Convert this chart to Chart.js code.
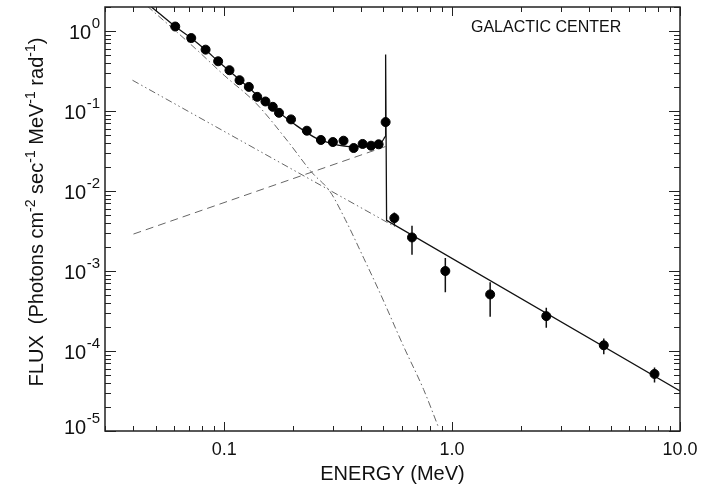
<!DOCTYPE html>
<html>
<head>
<meta charset="utf-8">
<script src="https://cdn.jsdelivr.net/npm/chart.js@4/dist/chart.umd.min.js"></script>
<style>
  body { margin: 0; background: #fff; }
  canvas { display: block; }
</style>
</head>
<body>
<canvas id="chart" width="718" height="486"></canvas>
<script>
'use strict';

// measured points (MeV, flux)
let pointE = [0.061, 0.0717, 0.0829, 0.0941, 0.1055, 0.1168, 0.1283, 0.1396, 0.1517, 0.1634, 0.174, 0.1965, 0.2306, 0.2657, 0.2999, 0.334, 0.370, 0.405, 0.441, 0.476, 0.511, 0.558, 0.667, 0.934, 1.469, 2.59, 4.63, 7.73];
let pointF = [1.14, 0.818, 0.586, 0.419, 0.324, 0.243, 0.2005, 0.1506, 0.1318, 0.113, 0.0951, 0.0787, 0.0568, 0.0435, 0.041, 0.0426, 0.0345, 0.0388, 0.0369, 0.0384, 0.0728, 0.00459, 0.00263, 0.00100, 0.00051, 0.000273, 0.000118, 0.0000517];

// error bars
let errE = [0.558, 0.667, 0.934, 1.469, 2.59, 4.63, 7.73];
let errLo = [0.0037, 0.0016, 0.000543, 0.000268, 0.000196, 0.000091, 0.0000404];
let errHi = [0.0054, 0.00368, 0.00146, 0.000724, 0.000347, 0.000143, 0.000062];

// total model, continuum part
let totalE = [0.048, 0.061, 0.072, 0.083, 0.094, 0.105, 0.117, 0.128, 0.14, 0.152, 0.163, 0.174, 0.20, 0.254, 0.30, 0.356, 0.436, 0.492, 0.508];
let totalF = [2.0, 1.14, 0.81, 0.58, 0.42, 0.32, 0.245, 0.198, 0.155, 0.128, 0.11, 0.096, 0.071, 0.0456, 0.039, 0.036, 0.0359, 0.0414, 0.0478];
// total model, 511 keV line and power law
let lineE = [0.508, 0.511, 0.516, 10];
let lineF = [0.0478, 0.51, 0.0043, 0.0000317];

// positronium continuum (dashed)
let posE = [0.04, 0.51];
let posF = [0.0029, 0.036];
// power law (dash dot dot)
let plE = [0.0396, 0.56];
let plF = [0.243, 0.0036];
// steep component (dash dot)
let steepE = [0.046, 0.075, 0.10, 0.138, 0.19, 0.242, 0.291, 0.340, 0.410, 0.483, 0.612, 0.75, 0.873];
let steepF = [2.05, 0.60, 0.28, 0.125, 0.042, 0.0172, 0.0099, 0.0044, 0.00144, 0.00053, 0.000115, 0.000033, 0.000011];

let xTicks = [0.1, 1, 10];
let xLabels = ['0.1', '1.0', '10.0'];
let yTicks = [1e-5, 1e-4, 1e-3, 1e-2, 1e-1, 1];
let yExp = ['-5', '-4', '-3', '-2', '-1', '0'];

// y title pieces: [text, superscript?]
let yTitle = [['FLUX  (Photons cm', false], ['-2', true], [' sec', false], ['-1', true], [' MeV', false], ['-1', true], [' rad', false], ['-1', true], [')', false]];

function pts(xs, ys) {
    let out = [];
    for (let i = 0; i < xs.length; i++) {
        out.push({x: xs[i], y: ys[i]});
    }
    return out;
}

let errData = [];
for (let i = 0; i < errE.length; i++) {
    errData.push({x: errE[i], y: errLo[i]});
    errData.push({x: errE[i], y: errHi[i]});
    errData.push({x: errE[i], y: null});
}

let font = '"Liberation Sans", Arial, Helvetica, sans-serif';

let frame = {
    id: 'frame',
    afterDatasetsDraw(chart) {
        let ctx = chart.ctx;
        let a = chart.chartArea;
        let x = chart.scales.x;
        let y = chart.scales.y;
        ctx.save();
        ctx.strokeStyle = '#222';
        ctx.lineWidth = 1;
        ctx.beginPath();
        for (let d = -2; d <= 1; d++) {
            for (let m = 1; m < 10; m++) {
                let v = m * Math.pow(10, d);
                if (v < x.min * 0.999 || v > x.max * 1.001) continue;
                let px = Math.round(x.getPixelForValue(v)) + 0.5;
                let len = m === 1 ? 9 : 5;
                ctx.moveTo(px, a.bottom); ctx.lineTo(px, a.bottom - len);
                ctx.moveTo(px, a.top); ctx.lineTo(px, a.top + len);
            }
        }
        for (let d = -5; d <= 0; d++) {
            for (let m = 1; m < 10; m++) {
                let v = m * Math.pow(10, d);
                if (v < y.min * 0.999 || v > y.max * 1.001) continue;
                let py = Math.round(y.getPixelForValue(v)) + 0.5;
                let len = m === 1 ? 11 : 6;
                ctx.moveTo(a.left, py); ctx.lineTo(a.left + len, py);
                ctx.moveTo(a.right, py); ctx.lineTo(a.right - len, py);
            }
        }
        ctx.stroke();
        ctx.lineWidth = 1.5;
        ctx.strokeRect(a.left, a.top, a.right - a.left, a.bottom - a.top);

        ctx.fillStyle = '#111';
        ctx.textBaseline = 'alphabetic';

        // y tick labels 10^n
        for (let i = 0; i < yTicks.length; i++) {
            let py = y.getPixelForValue(yTicks[i]);
            if (i === 0) py -= 5;
            let right = a.left - 5;
            ctx.font = '15px ' + font;
            ctx.textAlign = 'right';
            ctx.fillText(yExp[i], right, py - 3);
            let w = ctx.measureText(yExp[i]).width;
            ctx.font = '20px ' + font;
            ctx.fillText('10', right - w - 0.5, py + 8);
        }

        // y axis title with superscripts
        ctx.save();
        ctx.translate(43, 212);
        ctx.rotate(-Math.PI / 2);
        let total = 0;
        for (let p of yTitle) {
            ctx.font = (p[1] ? '14px ' : '20px ') + font;
            total += ctx.measureText(p[0]).width;
        }
        let cx = -total / 2;
        ctx.textAlign = 'left';
        for (let p of yTitle) {
            ctx.font = (p[1] ? '14px ' : '20px ') + font;
            ctx.fillText(p[0], cx, p[1] ? -8 : 0);
            cx += ctx.measureText(p[0]).width;
        }
        ctx.restore();

        ctx.font = '16px ' + font;
        ctx.textAlign = 'left';
        ctx.textBaseline = 'middle';
        ctx.fillText('GALACTIC CENTER', 471, 28);
        ctx.restore();
    }
};

let ctx = document.getElementById('chart').getContext('2d');
let chart = new Chart(ctx, {
    type: 'scatter',
    data: {
        datasets: [
            {
                data: pts(pointE, pointF),
                backgroundColor: '#000',
                borderColor: '#000',
                pointRadius: 4.5,
                showLine: false
            },
            {
                data: errData,
                borderColor: '#111',
                borderWidth: 1.5,
                pointRadius: 0,
                showLine: true,
                spanGaps: false
            },
            {
                data: pts(totalE, totalF),
                borderColor: '#111',
                borderWidth: 1.3,
                pointRadius: 0,
                showLine: true,
                cubicInterpolationMode: 'monotone'
            },
            {
                data: pts(lineE, lineF),
                borderColor: '#111',
                borderWidth: 1.3,
                pointRadius: 0,
                showLine: true
            },
            {
                data: pts(posE, posF),
                borderColor: '#666',
                borderWidth: 1,
                borderDash: [8, 5],
                pointRadius: 0,
                showLine: true
            },
            {
                data: pts(plE, plF),
                borderColor: '#666',
                borderWidth: 1,
                borderDash: [7, 3, 1.5, 3, 1.5, 3],
                pointRadius: 0,
                showLine: true
            },
            {
                data: pts(steepE, steepF),
                borderColor: '#666',
                borderWidth: 1,
                borderDash: [7, 3, 1.5, 3],
                pointRadius: 0,
                showLine: true,
                cubicInterpolationMode: 'monotone'
            }
        ]
    },
    options: {
        responsive: false,
        animation: false,
        layout: { padding: { left: 0, top: 7, right: 38, bottom: 0 } },
        plugins: {
            legend: { display: false },
            tooltip: { enabled: false }
        },
        scales: {
            x: {
                type: 'logarithmic',
                min: 0.03,
                max: 10,
                grid: { display: false, drawTicks: false },
                border: { display: false },
                afterBuildTicks: s => { s.ticks = xTicks.map(v => ({value: v})); },
                afterFit: s => { s.height = 55; s.paddingLeft = 0; s.paddingRight = 0; },
                ticks: {
                    autoSkip: false,
                    maxRotation: 0,
                    padding: 8,
                    color: '#111',
                    font: { family: font, size: 18 },
                    callback: (v) => xLabels[xTicks.indexOf(v)]
                },
                title: {
                    display: true,
                    text: 'ENERGY (MeV)',
                    color: '#111',
                    font: { family: font, size: 20 },
                    padding: { top: 0, bottom: 0 }
                }
            },
            y: {
                type: 'logarithmic',
                min: 1e-5,
                max: 2,
                grid: { display: false, drawTicks: false },
                border: { display: false },
                afterBuildTicks: s => { s.ticks = yTicks.map(v => ({value: v})); },
                afterFit: s => { s.width = 105; s.paddingTop = 0; s.paddingBottom = 0; },
                ticks: { display: false },
                title: { display: false }
            }
        }
    },
    plugins: [frame]
});
</script>
</body>
</html>
